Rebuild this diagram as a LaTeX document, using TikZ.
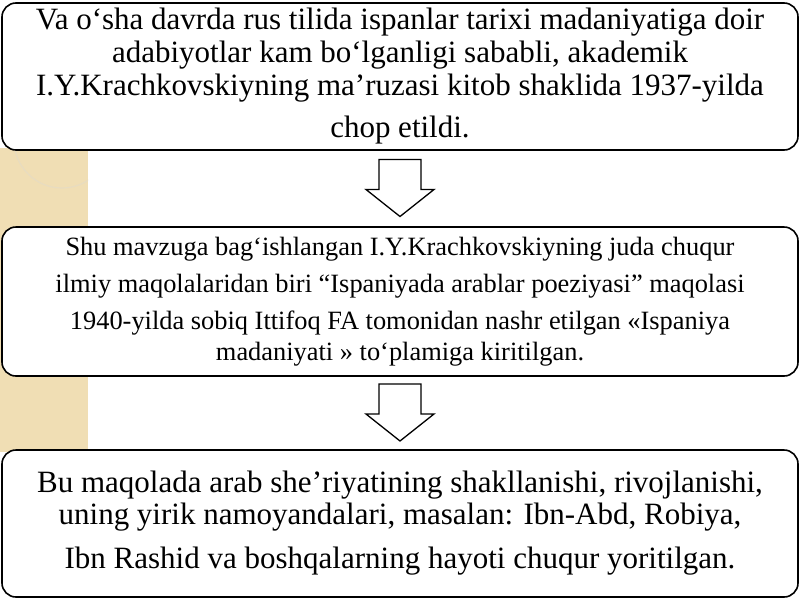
\documentclass[tikz,border=0pt]{standalone}
\usepackage{fontspec}
\setmainfont{Liberation Serif}
\usetikzlibrary{calc}
\definecolor{panel}{RGB}{240,222,180}
\definecolor{ring}{RGB}{232,220,192}

\begin{document}
\begin{tikzpicture}[x=1pt,y=-1pt,
  box/.style={draw, line width=1.6pt, rounded corners=14pt, fill=white, minimum width=796pt, align=center, inner sep=0pt},
  big/.style={font=\fontsize{31}{33}\selectfont},
  small/.style={font=\fontsize{26.4}{37}\selectfont},
  hollow/.style={draw, line width=1.3pt, fill=white, line join=miter}]
\useasboundingbox (0,0) rectangle (800,600);
\begin{scope}
\clip (0,148) rectangle (88,452);
\fill[panel] (0,148) rectangle (88,452);
\draw[ring, line width=1.2pt] (14,140) arc (180:0:48);
\end{scope}
\node[box, big, minimum height=147pt] (first) at (400,76.5) {Va o‘sha davrda rus tilida ispanlar tarixi madaniyatiga doir\\
adabiyotlar kam bo‘lganligi sababli, akademik\\
I.Y.Krachkovskiyning ma’ruzasi kitob shaklida 1937-yilda\\[9pt]
chop etildi.};
\node[box, small, minimum height=149pt] (second) at (400,301.5) {Shu mavzuga bag‘ishlangan I.Y.Krachkovskiyning juda chuqur\\
ilmiy maqolalaridan biri “Ispaniyada arablar poeziyasi” maqolasi\\
1940-yilda sobiq Ittifoq FA tomonidan nashr etilgan «Ispaniya\\[-6pt]
madaniyati » to‘plamiga kiritilgan.};
\node[box, big, minimum height=147pt] (third) at (400,523.5) {Bu maqolada arab she’riyatining shakllanishi, rivojlanishi,\\[-1pt]
uning yirik namoyandalari, masalan: Ibn-Abd, Robiya,\\[11pt]
Ibn Rashid va boshqalarning hayoti chuqur yoritilgan.};
\foreach \a/\b in {first/second, second/third}{
  \coordinate (m) at ($(\a.south)!0.5!(\b.north)$);
  \draw[hollow] ($(m)+(-21,-29)$) -- ++(42,0) -- ++(0,30) -- ++(13,0) -- ($(m)+(0,28)$) -- ($(m)+(-34,1)$) -- ++(13,0) -- cycle;
}
\end{tikzpicture}
\end{document}
